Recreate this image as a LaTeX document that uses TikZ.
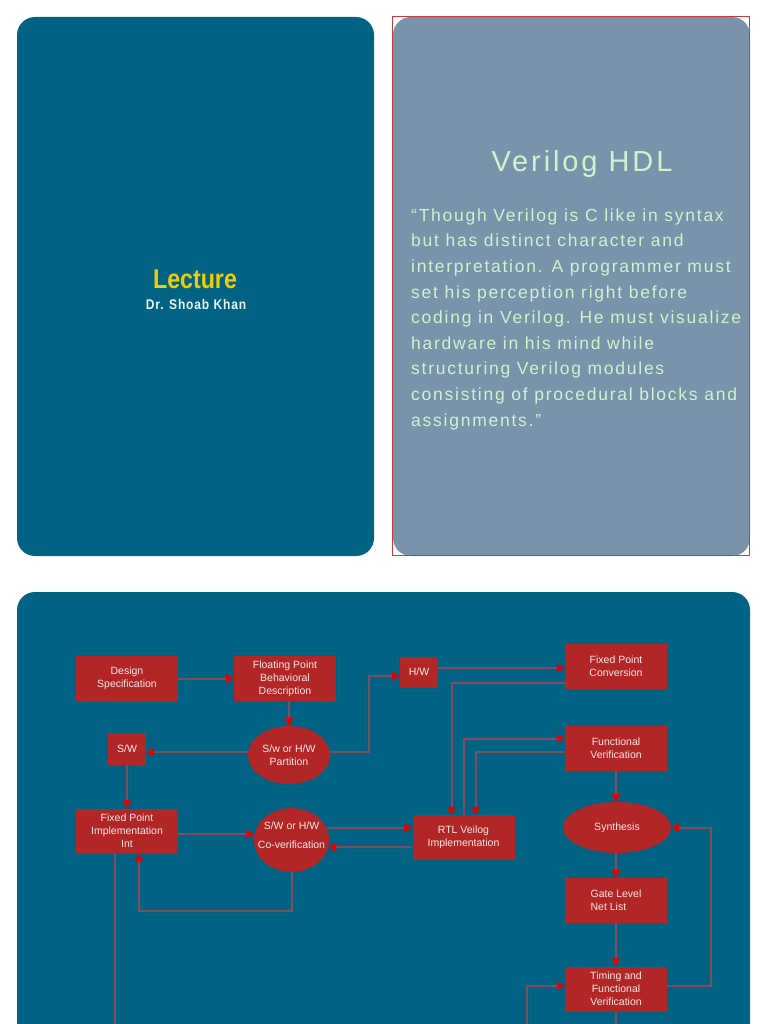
\documentclass[tikz,border=0pt]{standalone}
\usepackage{fontspec}
\setmainfont{Liberation Sans}
\newfontfamily\narrowfont[FakeStretch=0.86]{Liberation Sans}
\newfontfamily\namefont[FakeStretch=0.86,LetterSpace=6]{Liberation Sans}
\newfontfamily\titlefont[LetterSpace=10]{Liberation Sans}
\newfontfamily\quotefont[LetterSpace=10]{Liberation Sans}
\usetikzlibrary{arrows.meta,shapes.geometric}
\definecolor{cardblue}{RGB}{0,99,132}
\definecolor{cardgrey}{RGB}{122,147,171}
\definecolor{cardedge}{RGB}{200,60,60}
\definecolor{mint}{RGB}{204,245,204}
\definecolor{gold}{RGB}{240,204,0}
\definecolor{boxred}{RGB}{178,38,38}
\definecolor{boxtext}{RGB}{250,232,232}
\definecolor{wire}{RGB}{130,75,100}
\definecolor{tipred}{RGB}{230,0,0}
\tikzset{box/.style={fill=boxred,text=boxtext,align=center,inner sep=1pt,
  minimum width=102pt,minimum height=45pt,font=\fontsize{10.5}{13}\selectfont},
  smallbox/.style={box,minimum width=38pt,minimum height=32pt},
  oval/.style={box,ellipse,inner sep=0pt},
  wire/.style={draw=wire,line width=2pt},
  arrow/.style={wire,-{Triangle[length=8pt,width=8.5pt,color=tipred]}}}

\begin{document}
\begin{tikzpicture}[x=1pt,y=-1pt]
\useasboundingbox (0,0) rectangle (768,1024);
\clip (0,0) rectangle (768,1024);
\fill[white] (0,0) rectangle (768,1024);
% title cards
\fill[cardblue,rounded corners=18pt] (17,17) rectangle (374,556);
\fill[cardgrey,rounded corners=18pt] (393,17) rectangle (750,556);
\draw[cardedge,line width=0.8pt] (392,16) rectangle (749,555);
\node[text=gold,font=\narrowfont\bfseries\fontsize{27}{30}\selectfont,anchor=base] (lecture) at (195,288) {Lecture};
\node[text=white!92!cardblue,font=\namefont\bfseries\fontsize{14}{16}\selectfont,anchor=base] (author) at (196,309) {Dr. Shoab Khan};
\node[text=mint,font=\titlefont\fontsize{29}{32}\selectfont,anchor=base] (title) at (582,172) {Verilog HDL};
\node[text=mint,font=\quotefont\fontsize{17.5}{25.6}\selectfont,align=left,anchor=base west,inner sep=0pt] (quote) at (411,426)
  {“Though Verilog is C like in syntax\\but has distinct character and\\interpretation. A programmer must\\set his perception right before\\coding in Verilog. He must visualize\\hardware in his mind while\\structuring Verilog modules\\consisting of procedural blocks and\\assignments.”};
% design flow
\fill[cardblue,rounded corners=18pt] (17,592) rectangle (750,1060);
\node[box] (design) at (127,678.5) {Design\\Specification};
\node[box] (float) at (285,678.5) {Floating Point\\Behavioral\\Description};
\node[smallbox,minimum height=31pt] (hw) at (419,672) {H/W};
\node[box] (fpconv) at (616,666.5) {Fixed Point\\Conversion};
\node[smallbox] (sw) at (127,749) {S/W};
\node[oval,minimum width=82pt,minimum height=58pt] (part) at (289,755) {S/w or H/W\\Partition};
\node[box] (funcver) at (616,748.5) {Functional\\Verification};
\node[box] (fpimpl) at (127,831) {Fixed Point\\Implementation\\Int};
\node[oval,inner xsep=-7pt,minimum width=75pt,minimum height=64pt] (cover) at (291.5,840) {S/W or H/W\\[6pt]Co-verification\\[-3pt]\mbox{}};
\node[box] (rtl) at (463.5,837.5) {RTL Veilog\\Implementation};
\node[oval,minimum width=108pt,minimum height=51pt] (synth) at (617,827.5) {Synthesis};
\node[box,align=left] (gate) at (616,900.5) {Gate Level\\Net List};
\node[box] (timing) at (616,989) {Timing and\\Functional\\Verification};
\coordinate (offA) at (115,1030);
\coordinate (offB) at (527,1030);
\coordinate (offC) at (616,1030);
\draw[arrow] (design) -- (float);
\draw[arrow] (part.north |- float.south) -- (part);
\draw[arrow] (part.176) -- (part.176 -| sw.east);
\draw[arrow] (part.4) -- ++(39,0) |- ([yshift=-4pt]hw.west);
\draw[arrow] ([yshift=4pt]hw.east) -- ([yshift=4pt]hw.east -| fpconv.west);
\draw[arrow] ([yshift=-16pt]fpconv.west) -| ([xshift=-12pt]rtl.north);
\draw[arrow] (rtl.north) |- ([yshift=10pt]funcver.west);
\draw[arrow] ([yshift=-3pt]funcver.west) -| ([xshift=12pt]rtl.north);
\draw[arrow] (funcver) -- (funcver |- synth.north);
\draw[arrow] (sw) -- (fpimpl);
\draw[arrow] (fpimpl.east |- cover.171) -- (cover.171);
\draw[arrow] (cover.south) -- ++(0,39) -| ([xshift=12pt]fpimpl.south);
\draw[arrow] (cover.19) -- (cover.19 -| rtl.west);
\draw[arrow] (rtl.west |- cover.-11) -- (cover.-11);
\draw[wire] (fpimpl.south -| offA) -- (offA);
\draw[arrow] (synth.south -| gate) -- (gate);
\draw[arrow] (gate) -- (timing);
\draw[arrow] ([yshift=3pt]timing.east) -- ++(44,0) |- (synth.east);
\draw[arrow] (offB) |- ([yshift=3pt]timing.west);
\draw[wire] (timing) -- (offC);
\end{tikzpicture}
\end{document}
